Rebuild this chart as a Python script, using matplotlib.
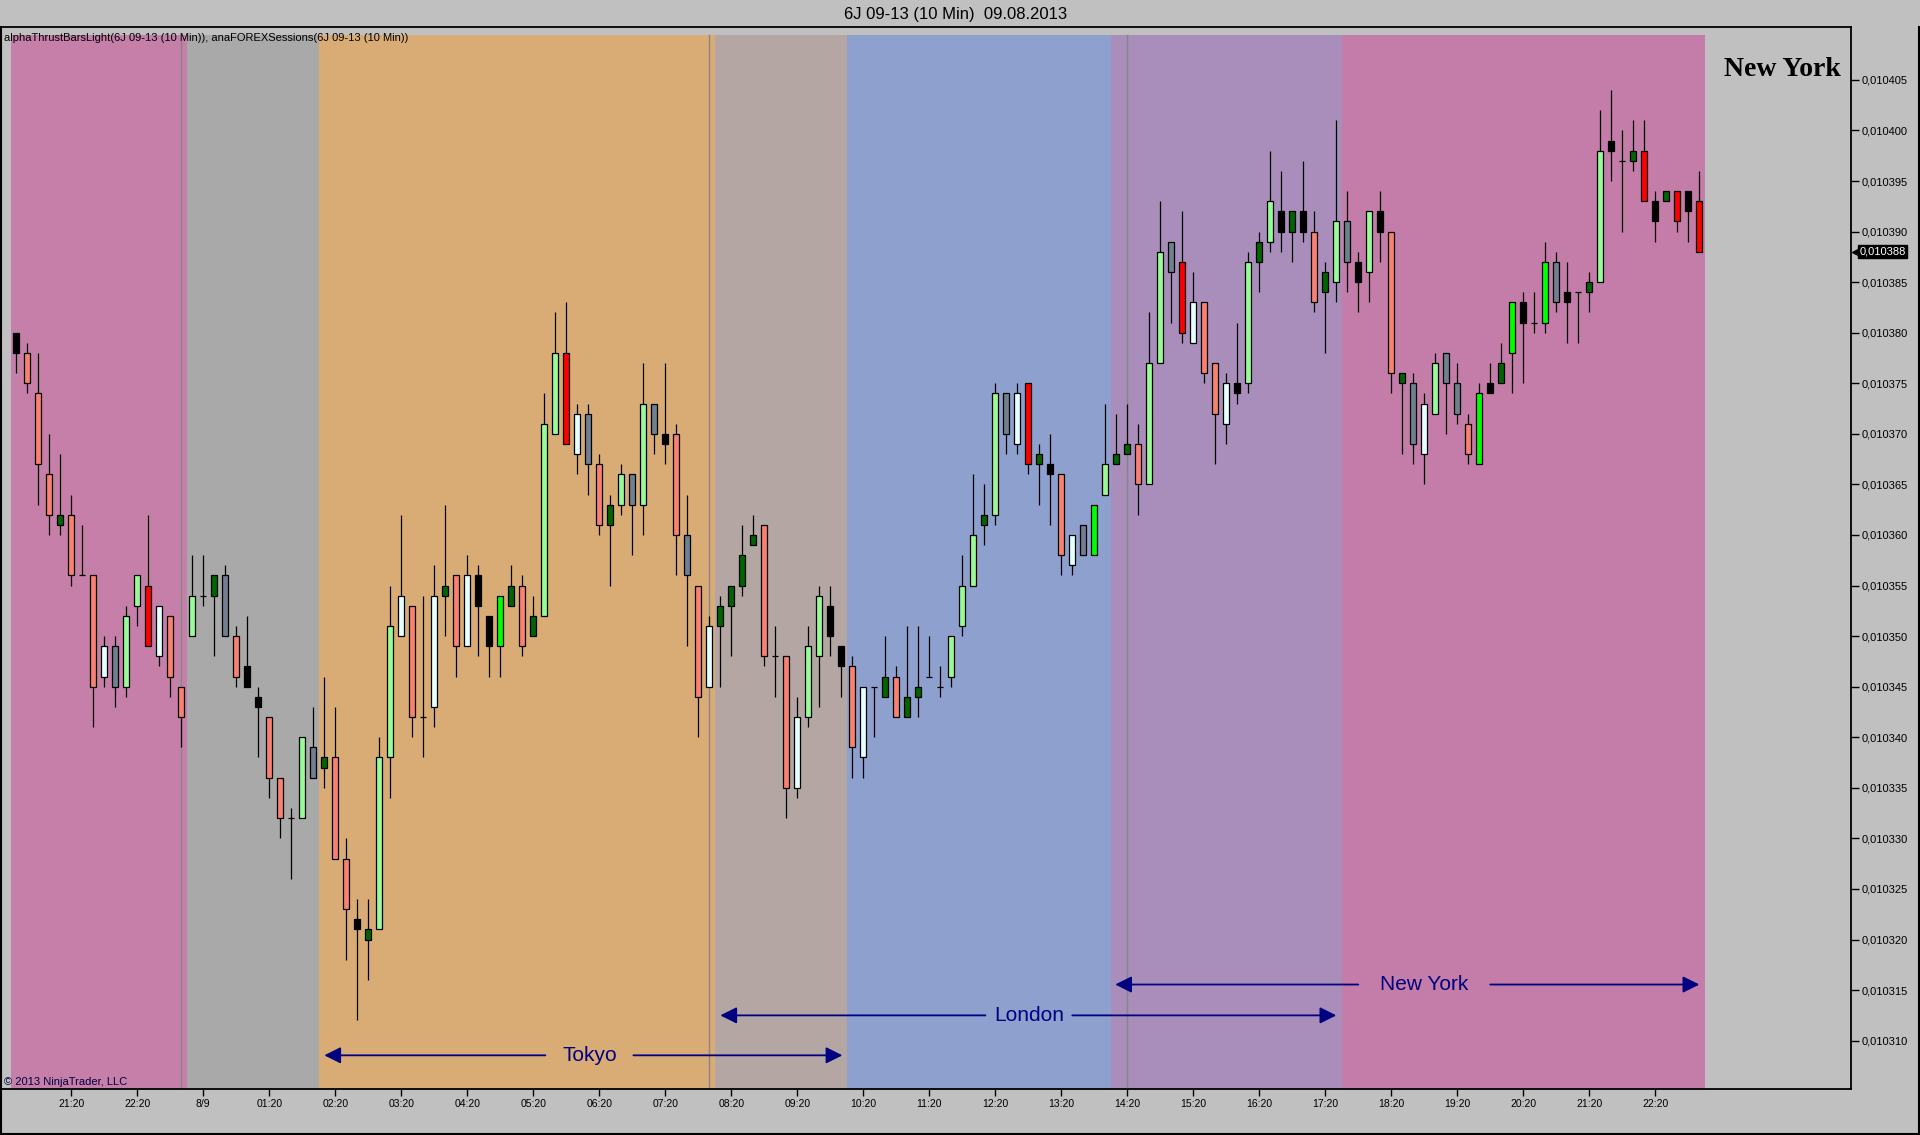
import matplotlib
matplotlib.use("Agg")
import matplotlib.pyplot as plt
from matplotlib.lines import Line2D
from matplotlib.ticker import FuncFormatter
import numpy as np

# 6J 09-13, 10 minute bars; prices are in units of 0.000001 above BASE
BASE = 0.0103

open_pts = [
    80, 78, 74, 66, 62, 62, 56, 56, 46, 49,
    45, 53, 55, 48, 52, 45, 50, 54, 54, 56,
    50, 47, 44, 42, 36, 32, 32, 39, 37, 38,
    28, 22, 21, 21, 38, 50, 53, 42, 43, 54,
    56, 49, 56, 52, 49, 53, 55, 50, 52, 70,
    78, 68, 72, 67, 61, 63, 66, 63, 73, 70,
    70, 60, 55, 45, 51, 53, 55, 59, 61, 48,
    48, 35, 42, 48, 53, 49, 47, 38, 45, 44,
    46, 42, 44, 46, 45, 46, 51, 55, 61, 62,
    74, 69, 75, 67, 67, 66, 57, 61, 58, 64,
    67, 68, 69, 65, 77, 89, 87, 79, 83, 77,
    71, 75, 75, 87, 89, 92, 90, 92, 90, 84,
    85, 91, 87, 86, 92, 90, 75, 75, 68, 72,
    78, 75, 71, 67, 75, 75, 78, 83, 81, 81,
    87, 84, 84, 84, 85, 99, 97, 97, 98, 93,
    93, 94, 94, 93,
]
high_pts = [
    80, 79, 78, 70, 68, 64, 61, 56, 50, 50,
    53, 56, 62, 53, 52, 45, 58, 58, 56, 57,
    51, 52, 45, 42, 36, 33, 40, 43, 46, 43,
    30, 24, 24, 40, 55, 62, 53, 54, 57, 63,
    56, 58, 57, 52, 54, 57, 56, 54, 74, 82,
    83, 73, 73, 68, 64, 67, 66, 77, 73, 77,
    71, 64, 55, 52, 54, 55, 61, 62, 61, 51,
    48, 44, 51, 55, 55, 49, 48, 45, 45, 50,
    47, 51, 51, 50, 47, 50, 58, 66, 65, 75,
    74, 75, 75, 69, 70, 66, 60, 61, 63, 73,
    72, 73, 71, 82, 93, 89, 92, 86, 83, 77,
    76, 81, 88, 90, 98, 96, 92, 97, 92, 87,
    101, 94, 88, 92, 94, 90, 76, 76, 74, 78,
    78, 77, 72, 75, 77, 79, 83, 84, 84, 89,
    88, 87, 84, 86, 102, 104, 100, 101, 101, 94,
    94, 94, 94, 96,
]
low_pts = [
    76, 74, 63, 60, 60, 55, 56, 41, 45, 43,
    44, 51, 49, 47, 44, 39, 50, 53, 48, 50,
    45, 45, 38, 34, 30, 26, 32, 36, 35, 28,
    18, 12, 16, 21, 34, 50, 40, 38, 41, 50,
    46, 49, 48, 46, 46, 53, 48, 50, 52, 70,
    69, 66, 64, 60, 55, 62, 58, 60, 68, 67,
    56, 49, 40, 45, 45, 48, 54, 59, 47, 44,
    32, 34, 41, 43, 48, 44, 36, 36, 40, 44,
    42, 42, 42, 46, 44, 45, 50, 55, 59, 61,
    68, 68, 66, 63, 61, 56, 56, 58, 58, 64,
    67, 68, 62, 65, 77, 81, 79, 79, 75, 67,
    69, 73, 74, 84, 88, 88, 87, 89, 82, 78,
    83, 84, 82, 83, 87, 74, 68, 67, 65, 72,
    70, 71, 67, 67, 74, 75, 74, 75, 80, 80,
    82, 79, 79, 82, 85, 95, 90, 96, 93, 89,
    93, 90, 89, 88,
]
close_pts = [
    78, 75, 67, 62, 61, 56, 56, 45, 49, 45,
    52, 56, 49, 53, 46, 42, 54, 54, 56, 50,
    46, 45, 43, 36, 32, 32, 40, 36, 38, 28,
    23, 21, 20, 38, 51, 54, 42, 42, 54, 55,
    49, 56, 53, 49, 54, 55, 49, 52, 71, 78,
    69, 72, 67, 61, 63, 66, 63, 73, 70, 69,
    60, 56, 44, 51, 53, 55, 58, 60, 48, 48,
    35, 42, 49, 54, 50, 47, 39, 45, 45, 46,
    42, 44, 45, 46, 45, 50, 55, 60, 62, 74,
    70, 74, 67, 68, 66, 58, 60, 58, 63, 67,
    68, 69, 65, 77, 88, 86, 80, 83, 76, 72,
    75, 74, 87, 89, 93, 90, 92, 90, 83, 86,
    91, 87, 85, 92, 90, 76, 76, 69, 73, 77,
    75, 72, 68, 74, 74, 77, 83, 81, 81, 87,
    83, 83, 84, 85, 98, 98, 97, 98, 93, 91,
    94, 91, 92, 88,
]
# thrust-bar colour of each bar
bar_kind = ("ksssdsxswg" "pprwsspxdg" "skkssxpgds" "skdppwsxwd"
            "swkkldsdpp" "rwgsdpgpgk" "sgswddddsx" "swppkkswxd"
            "sddxxpppdp" "gwrdkswglp" "ddsppgrwss" "wkpdpkdksd"
            "pgkpksdgwp" "ggslkdlkxl" "gkxdpkxdrk" "drkr")
kind_colors = {"k": "#000000", "s": "#FA8072", "r": "#FF0000", "p": "#98FB98",
               "l": "#00FF00", "d": "#006400", "w": "#E6FFFF", "g": "#708090",
               "x": "#000000"}

session_start = [-0.5, 15.5, 27.5, 63.5, 75.5, 99.5, 120.5]
session_end = [15.5, 27.5, 63.5, 75.5, 99.5, 120.5, 153.5]
session_colors = ["#C57FA8", "#A9A9A9", "#D9AC76", "#B4A6A3",
                  "#8EA0CD", "#A98EBB", "#C47CA8"]
session_marks = [15, 63, 101]

x_labels = ["21:20", "22:20", "8/9", "01:20", "02:20", "03:20", "04:20",
            "05:20", "06:20", "07:20", "08:20", "09:20", "10:20", "11:20",
            "12:20", "13:20", "14:20", "15:20", "16:20", "17:20", "18:20",
            "19:20", "20:20", "21:20", "22:20"]
x_label_bars = [5, 11, 17, 23, 29, 35, 41, 47, 53, 59, 65, 71, 77, 83,
                89, 95, 101, 107, 113, 119, 125, 131, 137, 143, 149]

arrow_names = ["Tokyo", "London", "New York"]
arrow_from = [28.0, 64.0, 99.9]
arrow_to = [75.1, 120.0, 153.0]
arrow_gap_l = [48.1, 88.1, 122.0]
arrow_gap_r = [56.1, 96.0, 134.0]
arrow_level = [8.55, 12.5, 15.55]

NARROW = ["Liberation Sans Narrow", "Liberation Sans", "DejaVu Sans"]
NAVY = "#000080"

o = BASE + np.array(open_pts) * 1e-6
h = BASE + np.array(high_pts) * 1e-6
l = BASE + np.array(low_pts) * 1e-6
c = BASE + np.array(close_pts) * 1e-6
x = np.arange(len(o))
faces = [kind_colors[k] for k in bar_kind]

fig = plt.figure(figsize=(19.2, 11.35), dpi=100, facecolor="#C0C0C0")
ax = fig.add_axes([1 / 1920, 1 - 1089 / 1135, 1850 / 1920, 1062 / 1135])
ax.set_facecolor("#C0C0C0")

for s, e, col in zip(session_start, session_end, session_colors):
    ax.axvspan(s, e, ymin=0, ymax=0.9925, color=col, lw=0, zorder=0)
for m in session_marks:
    ax.axvline(m, ymin=0, ymax=0.9925, color="#858585", lw=1, zorder=1)

ax.vlines(x, l, h, color="black", lw=0.9, zorder=2)
ax.bar(x, np.abs(c - o), bottom=np.minimum(o, c), width=0.55, color=faces,
       edgecolor="black", linewidth=0.9, zorder=3)

# session arrows
for name, a0, a1, gl, gr, lv in zip(arrow_names, arrow_from, arrow_to,
                                     arrow_gap_l, arrow_gap_r, arrow_level):
    y = BASE + lv * 1e-6
    props = dict(arrowstyle="-|>,head_length=0.5,head_width=0.25", color=NAVY,
                 lw=1.3, shrinkA=0, shrinkB=0, mutation_scale=20)
    ax.annotate("", xy=(a0, y), xytext=(gl, y), arrowprops=props, zorder=4)
    ax.annotate("", xy=(a1, y), xytext=(gr, y), arrowprops=props, zorder=4)
    ax.text((gl + gr) / 2, y, name, color=NAVY, fontsize=15, ha="center",
            va="center", family=["Liberation Sans", "DejaVu Sans"], zorder=4)

ax.set_xlim(-1.39, 166.79)
ax.set_ylim(BASE + 5.22e-6, BASE + 110.23e-6)

fmt = lambda v, _: f"{v:.6f}".replace(".", ",")
ax.yaxis.tick_right()
ax.set_yticks(BASE + np.arange(10, 106, 5) * 1e-6)
ax.yaxis.set_major_formatter(FuncFormatter(fmt))
ax.set_xticks(x_label_bars)
ax.set_xticklabels(x_labels)
ax.tick_params(axis="y", direction="out", length=6, width=1, pad=2, labelsize=8)
ax.tick_params(axis="x", direction="out", length=5, width=1, pad=2, labelsize=7.5)
for lab in ax.get_xticklabels() + ax.get_yticklabels():
    lab.set_family(NARROW)
for sp in ax.spines.values():
    sp.set_linewidth(1.3)

# last price marker
last = c[-1]
ax.plot([1.0025], [last], marker="<", color="black", ms=6,
        transform=ax.get_yaxis_transform(), clip_on=False)
ax.text(1.0045, last, fmt(last, None), transform=ax.get_yaxis_transform(),
        color="white", fontsize=8, va="center", ha="left", family=NARROW,
        bbox=dict(boxstyle="square,pad=0.15", fc="black", ec="black"))

fig.text(956 / 1920, 1 - 14 / 1135, "6J 09-13 (10 Min)  09.08.2013",
         fontsize=12, ha="center", va="center", family=NARROW)
fig.text(4 / 1920, 1 - 38 / 1135,
         "alphaThrustBarsLight(6J 09-13 (10 Min)), anaFOREXSessions(6J 09-13 (10 Min))",
         fontsize=8, ha="left", va="center", family=NARROW)
fig.text(4 / 1920, 1 - 1082 / 1135, "© 2013 NinjaTrader, LLC", fontsize=8,
         color="#000040", ha="left", va="center", family=NARROW)
fig.text(1782 / 1920, 1 - 70 / 1135, "New York", fontsize=20, fontweight="bold",
         ha="center", va="center", family=["Liberation Serif", "DejaVu Serif"])

# window border
for xs, ys in [([0.5 / 1920] * 2, [0, 1 - 27 / 1135]),
               ([1918.5 / 1920] * 2, [0, 1 - 27 / 1135]),
               ([0, 1], [1.5 / 1135] * 2)]:
    fig.add_artist(Line2D(xs, ys, color="black", lw=1.5))

fig.savefig("out.png", dpi=100, facecolor=fig.get_facecolor())
